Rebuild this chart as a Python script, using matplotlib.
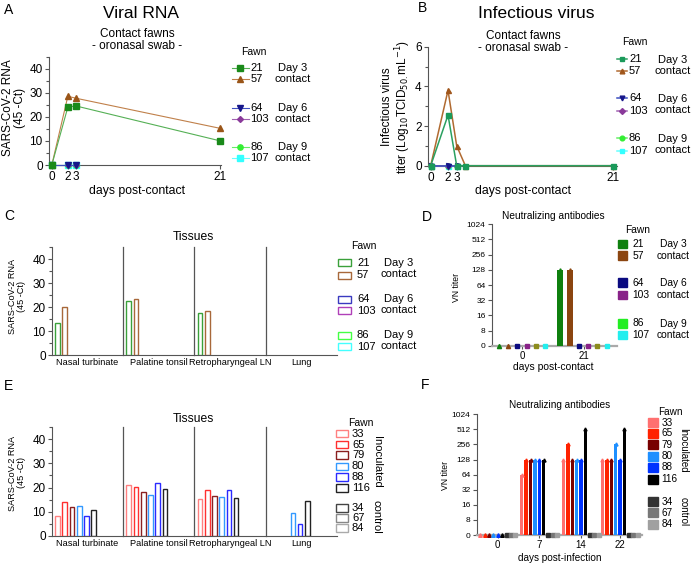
import matplotlib
matplotlib.use('Agg')
import matplotlib.pyplot as plt
import numpy as np
from matplotlib.patches import Rectangle
from matplotlib.ticker import MultipleLocator

plt.rcParams['font.family'] = ['Liberation Sans', 'DejaVu Sans']

# ---------------- data ----------------
contact_fawns = ['21', '57', '64', '103', '86', '107']
contact_groups = ['Day 3\ncontact', 'Day 6\ncontact', 'Day 9\ncontact']

a_days = [0, 2, 3, 21]
a_rna_21 = [0, 24.0, 24.5, 10.0]
a_rna_57 = [0, 28.5, 27.7, 15.2]
a_days_early = [0, 2, 3]
a_rna_64 = [0, 0, 0]
a_rna_103 = [0, 0, 0]
a_rna_86 = [0, 0, 0]
a_rna_107 = [0, 0, 0]
a_xticks = [0, 2, 3, 21]

b_days = [0, 2, 3, 4, 21]
b_titer_21 = [0, 2.55, 0, 0, 0]
b_titer_57 = [0, 3.8, 1.0, 0, 0]
b_days_early = [0, 2, 3]
b_titer_64 = [0, 0, 0]
b_titer_103 = [0, 0, 0]
b_titer_86 = [0, 0, 0]
b_titer_107 = [0, 0, 0]
b_xticks = [0, 2, 3, 21]

tissues = ['Nasal turbinate', 'Palatine tonsil', 'Retropharyngeal LN', 'Lung']
c_rna_21 = [13.4, 22.4, 17.3, 0]
c_rna_57 = [19.9, 23.4, 18.5, 0]
c_rna_64 = [0, 0, 0, 0]
c_rna_103 = [0, 0, 0, 0]
c_rna_86 = [0, 0, 0, 0]
c_rna_107 = [0, 0, 0, 0]

d_days = ['0', '21']
d_vn_21 = [0, 128]
d_vn_57 = [0, 128]
d_vn_64 = [0, 0]
d_vn_103 = [0, 0]
d_vn_86 = [0, 0]
d_vn_107 = [0, 0]

inoc_fawns = ['33', '65', '79', '80', '88', '116']
ctrl_fawns = ['34', '67', '84']
e_rna_33 = [8.3, 21.0, 15.3, 0]
e_rna_65 = [13.9, 20.1, 19.0, 0]
e_rna_79 = [12.1, 18.3, 16.6, 0]
e_rna_80 = [12.4, 17.0, 15.9, 9.4]
e_rna_88 = [8.3, 21.7, 19.0, 4.8]
e_rna_116 = [10.8, 19.4, 15.6, 14.6]
e_rna_34 = [0, 0, 0, 0]
e_rna_67 = [0, 0, 0, 0]
e_rna_84 = [0, 0, 0, 0]

f_days = ['0', '7', '14', '22']
f_vn_33 = [0, 64, 128, 128]
f_vn_65 = [0, 128, 256, 128]
f_vn_79 = [0, 128, 128, 128]
f_vn_80 = [0, 128, 128, 256]
f_vn_88 = [0, 128, 128, 128]
f_vn_116 = [0, 128, 512, 512]
f_vn_34 = [0, 0, 0, 0]
f_vn_67 = [0, 0, 0, 0]
f_vn_84 = [0, 0, 0, 0]

vn_ticks = [0, 8, 16, 32, 64, 128, 256, 512, 1024]

# ---------------- figure ----------------
W, H = 691, 564
fig = plt.figure(figsize=(W / 100, H / 100), dpi=100)

def px_axes(l, t, r, b):
    return fig.add_axes([l / W, 1 - b / H, (r - l) / W, (b - t) / H])

SP = '#555555'
def style(ax, ticksize=8.5):
    for s in ['top', 'right']:
        ax.spines[s].set_visible(False)
    for s in ['left', 'bottom']:
        ax.spines[s].set_color(SP)
        ax.spines[s].set_linewidth(0.8)
    ax.tick_params(which='both', colors=SP, labelcolor='black', width=0.8,
                   direction='out', labelsize=ticksize, pad=1.5)
    ax.tick_params(which='major', length=3)
    ax.tick_params(which='minor', length=2)
    ax.patch.set_alpha(0)

ov = fig.add_axes([0, 0, 1, 1], zorder=10)
ov.set_xlim(0, W); ov.set_ylim(H, 0); ov.axis('off'); ov.patch.set_alpha(0)

def T(x, y, s, size, ha='center', va='center', **kw):
    ov.text(x, y, s, fontsize=size, ha=ha, va=va, **kw)

# ---------- Panel A ----------
ax = px_axes(49, 56.5, 221, 165)
style(ax)
ax.set_xlim(-0.35, 21.1); ax.set_ylim(0, 45)
ax.set_yticks([0, 10, 20, 30, 40]); ax.yaxis.set_minor_locator(MultipleLocator(5))
ax.set_xticks(a_xticks)
a_sty = {
    '21': dict(marker='s', mc='#1a8a1a', lc='#55b055'),
    '57': dict(marker='^', mc='#9a5518', lc='#c0804a'),
    '64': dict(marker='v', mc='#16168a', lc='#4050c0'),
    '103': dict(marker='D', mc='#8a3a9a', lc='#a060b0'),
    '86': dict(marker='o', mc='#33ee33', lc='#66ee66'),
    '107': dict(marker='s', mc='#33ffff', lc='#66ffff'),
}
a_series = [('107', a_days_early, a_rna_107), ('86', a_days_early, a_rna_86),
            ('103', a_days_early, a_rna_103), ('64', a_days_early, a_rna_64),
            ('57', a_days, a_rna_57), ('21', a_days, a_rna_21)]
for f, x, y in a_series:
    st = a_sty[f]
    ms = 3.0 if st['marker'] == 'D' else 3.8
    ax.plot(x, y, color=st['lc'], lw=0.8, marker=st['marker'], ms=ms,
            mfc=st['mc'], mec=st['mc'], clip_on=False, zorder=3)

T(9, 10, 'A', 10)
T(141, 13, 'Viral RNA', 12.5)
T(137, 34, 'Contact fawns', 8.5)
T(137, 46, '- oronasal swab -', 8.5)
T(14, 108, 'SARS-CoV-2 RNA\n(45 -Ct)', 8.5, rotation=90, multialignment='center', linespacing=1.1)
T(137, 191, 'days post-contact', 8.8)

def line_legend(xl0, xl1, xlab, xgrp, yfawn, xfawn, rows, sty, ms, grp_rows, lw=0.8):
    T(xfawn, yfawn, 'Fawn', 7.5)
    for f, y in rows:
        st = sty[f]
        ov.plot([xl0, xl1], [y, y], color=st['lc'], lw=lw)
        m = 3.0 if st['marker'] == 'D' else ms
        ov.plot([(xl0 + xl1) / 2], [y], marker=st['marker'], ms=m, color=st['mc'])
        T(xlab, y, f, 8, ha='left')
    for g, y in grp_rows:
        T(xgrp, y, g, 8, linespacing=1.15)

a_rows = list(zip(contact_fawns, [68, 79, 107.7, 119, 146.7, 157.7]))
line_legend(232, 249, 250.5, 293, 52, 254, a_rows, a_sty, 3.8,
            list(zip(contact_groups, [73.5, 113.3, 152.2])))

# ---------- Panel B ----------
ax = px_axes(428, 46.7, 617, 165.7)
style(ax)
ax.set_xlim(-0.31, 21.5); ax.set_ylim(0, 6)
ax.set_yticks([0, 2, 4, 6]); ax.yaxis.set_minor_locator(MultipleLocator(1))
ax.set_xticks(b_xticks)
b_sty = {
    '21': dict(marker='s', mc='#1a9a5a', lc='#2aa060'),
    '57': dict(marker='^', mc='#a0561c', lc='#b06a30'),
    '64': dict(marker='v', mc='#16168a', lc='#3a4ec0'),
    '103': dict(marker='D', mc='#8a3a9a', lc='#a060b0'),
    '86': dict(marker='o', mc='#33ee33', lc='#66ee66'),
    '107': dict(marker='s', mc='#33ffff', lc='#66ffff'),
}
b_series = [('107', b_days_early, b_titer_107), ('86', b_days_early, b_titer_86),
            ('103', b_days_early, b_titer_103), ('64', b_days_early, b_titer_64),
            ('57', b_days, b_titer_57), ('21', b_days, b_titer_21)]
for f, x, y in b_series:
    st = b_sty[f]
    ms = 2.8 if st['marker'] == 'D' else 3.6
    ax.plot(x, y, color=st['lc'], lw=1.1, marker=st['marker'], ms=ms,
            mfc=st['mc'], mec=st['mc'], clip_on=False, zorder=3)

T(423, 8, 'B', 10)
T(536, 13, 'Infectious virus', 12.5)
T(523, 36, 'Contact fawns', 8.5)
T(523, 48, '- oronasal swab -', 8.5)
T(397, 107, 'Infectious virus\ntiter (Log$_{10}$TCID$_{50.}$mL$^{-1}$)', 8.5,
  rotation=90, multialignment='center', linespacing=1.1)
T(523, 191, 'days post-contact', 8.8)
b_rows = list(zip(contact_fawns, [59.3, 71, 98.3, 111, 137.7, 150.7]))
line_legend(617.5, 627, 629, 673, 42, 635, b_rows, b_sty, 3.4,
            list(zip(contact_groups, [65.2, 104.7, 144.2])), lw=1.1)

# ---------- tissue bar panels ----------
GW = 71.0       # px per tissue group
SLOT = 7.2      # px between bars
BW = 4.6        # bar width

def tissue_panel(top, bottom, series, cols):
    ax = px_axes(52, top, 337, bottom)
    style(ax)
    ax.set_xlim(0, 4 * GW); ax.set_ylim(0, 45)
    ax.set_yticks([0, 10, 20, 30, 40]); ax.yaxis.set_minor_locator(MultipleLocator(5))
    centers = [GW * (g + 0.5) for g in range(4)]
    ax.set_xticks(centers)
    ax.set_xticklabels(tissues, fontsize=6.6)
    ax.tick_params(axis='x', length=0, pad=2)
    for g in range(1, 4):
        ax.plot([GW * g, GW * g], [0, 45], color='#555555', lw=0.9, clip_on=False)
    for k, vals in enumerate(series):
        for g, v in enumerate(vals):
            if v > 0:
                ax.bar(GW * g + 5.5 + SLOT * k, v, width=BW, facecolor='white',
                       edgecolor=cols[k], linewidth=1.0, zorder=3)
    return ax

c_cols = ['#3aa03a', '#a8683a', '#3a3ac0', '#b040b8', '#44ff44', '#44ffff']
tissue_panel(247, 355, [c_rna_21, c_rna_57, c_rna_64, c_rna_103, c_rna_86, c_rna_107], c_cols)
T(9, 216, 'C', 10)
T(193, 237, 'Tissues', 8.7)
T(17, 296, 'SARS-CoV-2 RNA\n(45 -Ct)', 6.6, rotation=90, multialignment='center', linespacing=1.1)

def box_legend(x0, w, h, xlab, rows, cols, filled, size=8):
    for (f, y), c in zip(rows, cols):
        ov.add_patch(Rectangle((x0, y - h / 2), w, h,
                               facecolor=c if filled else 'white', edgecolor=c, lw=1.0))
        T(xlab, y, f, size, ha='left')

T(364, 246, 'Fawn', 7.5)
box_legend(338, 13, 7, 357, list(zip(contact_fawns, [262.7, 275, 299, 310.7, 335, 346.7])),
           c_cols, False)
for g, y in zip(contact_groups, [268.8, 304.8, 340.8]):
    T(399, y, g, 8, linespacing=1.15)

e_cols = ['#ff8080', '#ff3030', '#8b2020', '#3399ff', '#2a2aff', '#222222', '#444444', '#888888', '#aaaaaa']
tissue_panel(427, 536, [e_rna_33, e_rna_65, e_rna_79, e_rna_80, e_rna_88, e_rna_116,
                        e_rna_34, e_rna_67, e_rna_84], e_cols)
T(9, 386, 'E', 10)
T(193, 419, 'Tissues', 8.7)
T(17, 473, 'SARS-CoV-2 RNA\n(45 -Ct)', 6.6, rotation=90, multialignment='center', linespacing=1.1)
T(361, 423, 'Fawn', 7.5)
box_legend(336, 12, 7.5, 352, list(zip(inoc_fawns + ctrl_fawns,
           [433.7, 444.7, 455, 466.3, 477, 488, 508, 518, 528])), e_cols, False)
T(377, 462, 'Inoculated', 8, rotation=-90)
T(377, 517, 'control', 8, rotation=-90)

# ---------- VN titer panels ----------
def lg(v):
    return np.log2(v) if v > 0 else 2.0

def vn_panel(l, t, r, b, centers, labels, series, cols, markers, slot, bw, msz, ms_base):
    ax = px_axes(l, t, r, b)
    style(ax, ticksize=6)
    ax.spines['bottom'].set_color('#aaaaaa'); ax.spines['bottom'].set_linewidth(1.6)
    ax.set_xlim(0, r - l); ax.set_ylim(2, 10)
    ax.set_yticks(np.arange(2, 11))
    ax.set_yticklabels([str(v) for v in vn_ticks])
    ax.set_xticks(centers); ax.set_xticklabels(labels, fontsize=7)
    ax.tick_params(axis='x', length=2)
    n = len(series)
    for k, vals in enumerate(series):
        xs = [c + (k - (n - 1) / 2) * slot for c in centers]
        ys = [lg(v) for v in vals]
        for x, y in zip(xs, ys):
            if y > 2:
                ax.bar(x, y - 2, bottom=2, width=bw, color=cols[k], zorder=3)
                ax.plot([x], [y], marker='^', ms=msz, color=cols[k], zorder=4, clip_on=False)
            else:
                ax.plot([x], [2], marker=markers[k], ms=ms_base, color=cols[k],
                        zorder=4, clip_on=False)
    return ax

d_cols = ['#0f800f', '#8b4510', '#0a0a80', '#882288', '#22ee22', '#22eeee']
d_mark_cols = ['#0f800f', '#8b4510', '#0a0a80', '#882288', '#8c8c1c', '#22eeee']
d_series = [d_vn_21, d_vn_57, d_vn_64, d_vn_103, d_vn_86, d_vn_107]
ax = vn_panel(491.7, 224.3, 617, 345.7, [30.3, 91.8], d_days, d_series, d_mark_cols,
              ['^', '^', 's', 's', 's', 's'], 9.3, 6.0, 2.5, 3.0)
T(427, 217, 'D', 10)
T(553, 216, 'Neutralizing antibodies', 7.3)
T(457, 287, 'VN titer', 6.2, rotation=90)
T(553, 367, 'days post-contact', 7.4)
T(638, 230, 'Fawn', 7.4)
box_legend(618.3, 9, 8.5, 632.5, list(zip(contact_fawns, [244, 255.7, 282.7, 295, 323.3, 335])),
           d_cols, True, size=7.4)
for g, y in zip(contact_groups, [250, 289, 329.2]):
    T(673, y, g, 7.4, linespacing=1.15)

f_cols = ['#ff7070', '#ff2200', '#780000', '#1e8fff', '#0033ff', '#000000', '#333333', '#777777', '#a0a0a0']
f_series = [f_vn_33, f_vn_65, f_vn_79, f_vn_80, f_vn_88, f_vn_116, f_vn_34, f_vn_67, f_vn_84]
ax = vn_panel(476.7, 414.3, 641.7, 535, [21, 62.6, 104.3, 143.3], f_days, f_series, f_cols,
              ['^'] * 6 + ['s'] * 3, 4.4, 3.4, 2.2, 2.6)
T(425, 385, 'F', 10)
T(560, 405, 'Neutralizing antibodies', 7.2)
T(446, 475, 'VN titer', 6.2, rotation=90)
T(560, 558, 'days post-infection', 7.2)
T(670, 411.7, 'Fawn', 7.2)
box_legend(648.3, 10, 9, 661.5, list(zip(inoc_fawns + ctrl_fawns,
           [422.7, 433.5, 444.5, 456, 467.3, 479, 501.7, 512.7, 524])), f_cols, True, size=7.2)
T(683.5, 450, 'Inoculated', 7, rotation=-90)
T(683.5, 512, 'control', 7, rotation=-90)

fig.savefig('out.png', dpi=100)
